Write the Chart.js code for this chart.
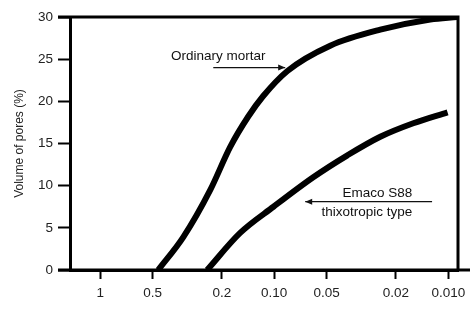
<!DOCTYPE html>
<html>
<head>
<meta charset="utf-8">
<script src="https://cdn.jsdelivr.net/npm/chart.js@4.4.0/dist/chart.umd.min.js"></script>
<style>
  html, body { margin: 0; padding: 0; background: #fff; }
  #wrap { width: 475px; height: 309px; }
</style>
</head>
<body>
<div id="wrap"><canvas id="myChart"></canvas></div>
<script>
// pore diameter values (x) and cumulative pore volume (%)
const ordinaryX = [0.464, 0.333, 0.233, 0.179, 0.141, 0.116, 0.084, 0.0477, 0.0246, 0.0127, 0.0089];
const ordinaryY = [0, 3.9, 9.5, 14.6, 18.2, 20.6, 23.6, 26.6, 28.5, 29.7, 30];
const emacoX = [0.243, 0.157, 0.101, 0.0597, 0.038, 0.0246, 0.0159, 0.0101];
const emacoY = [0, 4.4, 7.5, 11.0, 13.6, 15.8, 17.4, 18.7];

// tick values and their printed labels on the x axis
const xTicks = [1, 0.5, 0.2, 0.1, 0.05, 0.02, 0.01];
const xTickLabels = ['1', '0.5', '0.2', '0.10', '0.05', '0.02', '0.010'];

// labels inside the plot, placed in data coordinates
const notes = [
    { text: 'Ordinary mortar', x: 0.21, y: 25.3, align: 'center' },
    { text: 'Emaco S88', x: 0.0161, y: 9.1, align: 'right' },
    { text: 'thixotropic type', x: 0.0161, y: 6.9, align: 'right' }
];
const arrows = [
    { x1: 0.224, x2: 0.0865, y: 24.0 },
    { x1: 0.0124, x2: 0.0664, y: 8.1 }
];

function toPoints(xs, ys) {
    return xs.map((x, i) => ({ x: x, y: ys[i] }));
}

// frame lines on top and right, plus the overhangs of the axes
const framePlugin = {
    id: 'frame',
    afterDraw(chart) {
        const ctx = chart.ctx;
        const a = chart.chartArea;
        ctx.save();
        ctx.strokeStyle = '#000';
        ctx.lineWidth = 3;
        ctx.beginPath();
        ctx.moveTo(a.left - 12, a.top);
        ctx.lineTo(a.right, a.top);
        ctx.lineTo(a.right, a.bottom);
        ctx.moveTo(a.left - 12, a.bottom);
        ctx.lineTo(a.right + 12, a.bottom);
        ctx.stroke();
        ctx.restore();
    }
};

// text notes and arrows
const notesPlugin = {
    id: 'notes',
    afterDatasetsDraw(chart) {
        const ctx = chart.ctx;
        const xs = chart.scales.x;
        const ys = chart.scales.y;
        ctx.save();
        ctx.fillStyle = '#111';
        ctx.font = '13.5px "Liberation Sans", Arial, sans-serif';
        ctx.textBaseline = 'middle';
        notes.forEach(n => {
            ctx.textAlign = n.align;
            ctx.fillText(n.text, xs.getPixelForValue(n.x), ys.getPixelForValue(n.y));
        });
        ctx.strokeStyle = '#111';
        ctx.lineWidth = 1.2;
        arrows.forEach(ar => {
            const x1 = xs.getPixelForValue(ar.x1);
            const x2 = xs.getPixelForValue(ar.x2);
            const y = ys.getPixelForValue(ar.y);
            const dir = x2 > x1 ? 1 : -1;
            ctx.beginPath();
            ctx.moveTo(x1, y);
            ctx.lineTo(x2, y);
            ctx.stroke();
            ctx.beginPath();
            ctx.moveTo(x2, y);
            ctx.lineTo(x2 - dir * 7, y - 3);
            ctx.lineTo(x2 - dir * 7, y + 3);
            ctx.closePath();
            ctx.fillStyle = '#111';
            ctx.fill();
        });
        ctx.restore();
    }
};

Chart.defaults.font.family = '"Liberation Sans", Arial, sans-serif';
Chart.defaults.color = '#222';

new Chart(document.getElementById('myChart'), {
    type: 'line',
    data: {
        datasets: [
            {
                label: 'Ordinary mortar',
                data: toPoints(ordinaryX, ordinaryY),
                borderColor: '#000',
                borderWidth: 6,
                pointRadius: 0,
                cubicInterpolationMode: 'monotone',
                fill: false
            },
            {
                label: 'Emaco S88 thixotropic type',
                data: toPoints(emacoX, emacoY),
                borderColor: '#000',
                borderWidth: 6,
                pointRadius: 0,
                cubicInterpolationMode: 'monotone',
                fill: false
            }
        ]
    },
    options: {
        responsive: true,
        maintainAspectRatio: false,
        animation: false,
        layout: { padding: { left: 0, top: 17, right: 17, bottom: 0 } },
        plugins: {
            legend: { display: false },
            tooltip: { enabled: false }
        },
        scales: {
            x: {
                type: 'logarithmic',
                reverse: true,
                min: 0.0088,
                max: 1.49,
                afterBuildTicks: s => { s.ticks = xTicks.map(v => ({ value: v })); },
                afterFit: s => { s.height = 39; },
                ticks: {
                    autoSkip: false,
                    maxRotation: 0,
                    padding: 6,
                    font: { size: 13.5 },
                    callback: (v, i) => xTickLabels[i]
                },
                grid: { drawOnChartArea: false, tickLength: 9, tickWidth: 2, tickColor: '#000' },
                border: { color: '#000', width: 3 }
            },
            y: {
                min: 0,
                max: 30,
                afterFit: s => { s.width = 70; },
                ticks: { stepSize: 5, padding: 5, font: { size: 13.5 } },
                grid: { drawOnChartArea: false, tickLength: 12, tickWidth: 2, tickColor: '#000' },
                border: { color: '#000', width: 3 },
                title: {
                    display: true,
                    text: 'Volume of pores (%)',
                    font: { size: 12 },
                    padding: { top: 12, bottom: 0 }
                }
            }
        }
    },
    plugins: [framePlugin, notesPlugin]
});
</script>
</body>
</html>
